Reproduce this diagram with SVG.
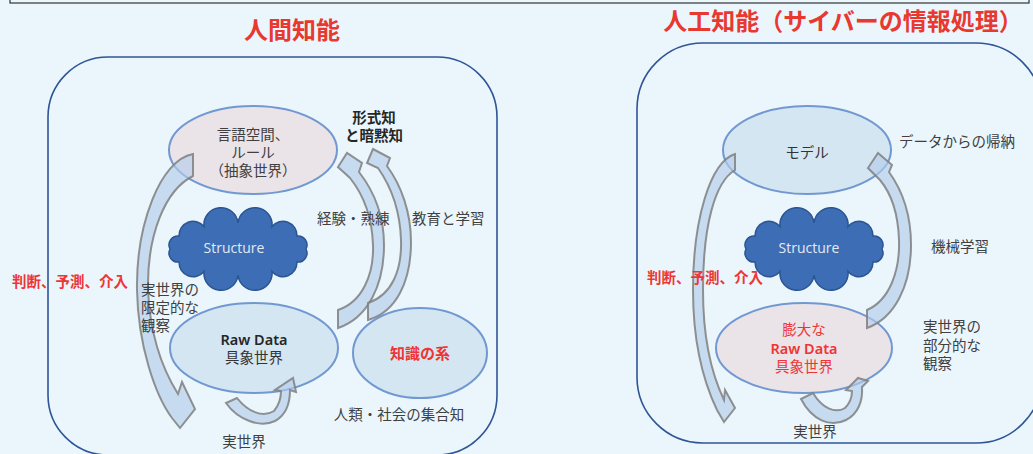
<svg xmlns="http://www.w3.org/2000/svg" width="1033" height="454" viewBox="0 0 1033 454">
<style>
.jp{font-family:"Noto Sans CJK JP","Noto Sans",sans-serif;}
.t{font-size:14.5px;fill:#404040;}
.red{fill:#EE3535;font-weight:bold;}
.frame{fill:none;stroke:#2F5597;stroke-width:1.6;}
.ell{stroke:#7198D0;stroke-width:2;}
.pink{fill:#EAE3E8;}
.blue{fill:#D5E6F3;}
.arrow{fill:#B4CDEA;fill-opacity:0.65;stroke:#7F7F7F;stroke-opacity:0.85;stroke-width:2;stroke-linejoin:miter;}
.cloud{fill:#3D6DB4;stroke:#2B5592;stroke-width:1.5;}
.ct{font-family:"Open Sans","Noto Sans",sans-serif;font-size:14px;fill:#E2EAF5;}
</style>
<defs>
<path id="cloud" d="M-68,0 A9,9 0 0 1 -58.9,-13 A14,14 0 0 1 -34,-22.5 A17,17 0 0 1 0,-26 A17,17 0 0 1 34,-22.5 A14,14 0 0 1 58.9,-13 A9,9 0 0 1 68,0 A9,9 0 0 1 58.9,13 A14,14 0 0 1 34,22.5 A17,17 0 0 1 0,26 A17,17 0 0 1 -34,22.5 A14,14 0 0 1 -58.9,13 A9,9 0 0 1 -68,0 Z"/>
</defs>
<rect x="0" y="0" width="1033" height="454" fill="#EAF6FC"/>
<rect x="10" y="-10" width="1019" height="13" fill="none" stroke="#333" stroke-width="1.2"/>

<g id="title-left"><text x="292" y="39" text-anchor="middle" class="jp red" style="font-size:24px;fill:#E8382F">人間知能</text></g>
<g id="title-right"><text x="843" y="30" text-anchor="middle" class="jp red" style="font-size:24px;fill:#E8382F">人工知能（サイバーの情報処理）</text></g>

<g id="frame-left"><rect class="frame" x="48" y="57" width="449" height="398" rx="60" ry="60"/></g>
<g id="frame-right"><rect class="frame" x="637" y="43" width="405" height="400" rx="66" ry="66"/></g>

<!-- left panel -->
<g id="abstract"><ellipse class="ell pink" cx="253" cy="150" rx="84" ry="44"/>
<text class="jp t" text-anchor="middle" x="253" y="140">言語空間、</text>
<text class="jp t" text-anchor="middle" x="253" y="158">ルール</text>
<text class="jp t" text-anchor="middle" x="253" y="176">（抽象世界）</text></g>

<g id="structure-left"><use href="#cloud" class="cloud" transform="translate(238,249)"/>
<text class="ct" text-anchor="middle" x="234" y="253">Structure</text></g>

<g id="rawdata-left"><ellipse class="ell blue" cx="254" cy="348" rx="84" ry="45"/>
<text text-anchor="middle" x="254" y="345" style="font-family:'Noto Sans',sans-serif;font-size:14.5px;font-weight:600;fill:#262626">Raw Data</text>
<text class="jp t" text-anchor="middle" x="254" y="363" style="fill:#333">具象世界</text></g>

<g id="knowledge"><ellipse class="ell blue" cx="420" cy="353" rx="67" ry="45"/>
<text class="jp red" text-anchor="middle" x="420" y="359" style="font-size:15px">知識の系</text></g>

<!-- right panel -->
<g id="model"><ellipse class="ell blue" cx="807" cy="150" rx="84" ry="44"/>
<text class="jp t" text-anchor="middle" x="807" y="158" style="fill:#333">モデル</text></g>

<g id="structure-right"><use href="#cloud" class="cloud" transform="translate(814,249)"/>
<text class="ct" text-anchor="middle" x="809" y="253">Structure</text></g>

<g id="rawdata-right"><ellipse class="ell pink" cx="804" cy="348" rx="88" ry="45"/>
<text class="jp" text-anchor="middle" x="804" y="335" style="font-size:14.5px;fill:#EE3535">膨大な</text>
<text text-anchor="middle" x="804" y="354" style="font-family:'Noto Sans',sans-serif;font-size:14.5px;font-weight:600;fill:#EE3535">Raw Data</text>
<text class="jp" text-anchor="middle" x="804" y="372" style="font-size:14.5px;fill:#EE3535">具象世界</text></g>

<g id="connectors">
<!-- left panel -->
<path class="arrow" d="M193,154 C160,160 136,225 137,290 C138,345 155,395 172,418 L180,428 L195,409 L182,382 L178,394 C163,370 150,335 148,290 C147,235 165,190 193,176 Z"/>
<path class="arrow" d="M226,403 L237,398 C248,412 263,418 274,411 C279,405 281,398 281,391 L275,390 L293,378 L296,392 L290,390 C290,403 286,415 275,421 C260,428 238,420 226,403 Z"/>
<path class="arrow" d="M338,310 C362,302 374,275 373,245 C372,215 362,193 350,178 L338,167 L347,153 L362,163 L359,172 C373,190 384,215 384,245 C384,285 368,318 338,328 Z"/>
<path class="arrow" d="M368,303 C392,295 402,270 401,240 C400,210 390,185 378,168 L367,163 L373,149 L390,158 L387,166 C401,185 411,212 411,242 C411,282 396,312 368,320 Z"/>
<!-- right panel -->
<path class="arrow" d="M735,154 C710,162 693,220 693,290 C693,345 705,385 717,410 L724,422 L735,408 L725,390 L724,400 C712,375 703,340 703,290 C703,225 715,182 735,170 Z"/>
<path class="arrow" d="M867,310 C890,300 900,270 899,240 C898,210 890,192 880,180 L868,168 L878,153 L892,165 L889,172 C902,190 911,215 911,245 C911,285 895,318 867,328 Z"/>
<path class="arrow" d="M801,399 L813,393 C822,408 835,414 845,408 C850,403 852,397 852,391 L846,390 L858,378 L868,381 L862,387 C863,401 858,414 846,420 C830,428 812,420 801,399 Z"/>
</g>

<g id="labels-left">
<text class="jp" x="374" y="123" text-anchor="middle" style="font-size:14.5px;font-weight:bold;fill:#262626">形式知</text>
<text class="jp" x="374" y="141" text-anchor="middle" style="font-size:14.5px;font-weight:bold;fill:#262626">と暗黙知</text>
<text class="jp t" x="317" y="224">経験・熟練</text>
<text class="jp t" x="412" y="224">教育と学習</text>
<text class="jp red" x="12" y="287" style="font-size:14.5px">判断、予測、介入</text>
<text class="jp t" x="141" y="295">実世界の</text>
<text class="jp t" x="141" y="313">限定的な</text>
<text class="jp t" x="141" y="331">観察</text>
<text class="jp t" x="399" y="420" text-anchor="middle">人類・社会の集合知</text>
<text class="jp t" x="244" y="447" text-anchor="middle">実世界</text>
</g>

<g id="labels-right">
<text class="jp t" x="899" y="147">データからの帰納</text>
<text class="jp t" x="931" y="252">機械学習</text>
<text class="jp red" x="647" y="283" style="font-size:14.5px">判断、予測、介入</text>
<text class="jp t" x="923" y="332">実世界の</text>
<text class="jp t" x="923" y="351">部分的な</text>
<text class="jp t" x="923" y="369">観察</text>
<text class="jp t" x="815" y="437" text-anchor="middle">実世界</text>
</g>
</svg>
